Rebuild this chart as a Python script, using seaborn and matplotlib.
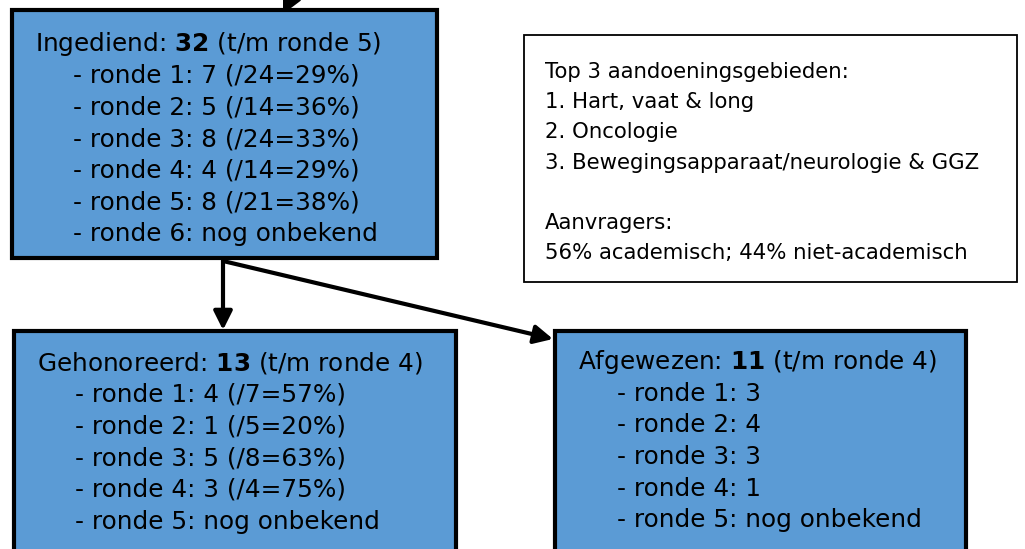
import matplotlib.pyplot as plt
import matplotlib.patches as patches
import seaborn as sns

# data
submitted_total = 32
submitted_upto = 5
submitted_counts = [7, 5, 8, 4, 8]
submitted_of = [24, 14, 24, 14, 21]
submitted_pct = [29, 36, 33, 29, 38]

granted_total = 13
granted_upto = 4
granted_counts = [4, 1, 5, 3]
granted_of = [7, 5, 8, 4]
granted_pct = [57, 20, 63, 75]

rejected_total = 11
rejected_upto = 4
rejected_counts = [3, 4, 3, 1]

top_areas = ["Hart, vaat & long", "Oncologie", "Bewegingsapparaat/neurologie & GGZ"]
applicants_acad = 56
applicants_nonacad = 44

sns.set_theme(style="white")
plt.rcParams['font.family'] = ['DejaVu Sans']
plt.rcParams['mathtext.fontset'] = 'dejavusans'

BLUE = "#5B9BD5"
FS = 17.8
FS_INFO = 15.3


def box_lines(title, total, upto, counts, extra, unknown_round):
    lines = [f"{title}: $\\mathbf{{{total}}}$ (t/m ronde {upto})"]
    for i, c in enumerate(counts):
        lines.append(f"- ronde {i + 1}: {c}{extra[i] if extra else ''}")
    lines.append(f"- ronde {unknown_round}: nog onbekend")
    return lines


def draw_box(ax, x0, y0, x1, y1, lines, tx, ty, indent, step):
    ax.add_patch(patches.Rectangle((x0, y0), x1 - x0, y1 - y0, facecolor=BLUE,
                                   edgecolor="black", lw=3, zorder=2))
    for i, line in enumerate(lines):
        ax.text(tx if i == 0 else indent, ty + i * step, line, fontsize=FS,
                va="center", ha="left", color="black", zorder=3)


fig = plt.figure(figsize=(10.25, 5.49), dpi=100)
ax = fig.add_axes([0, 0, 1, 1])
ax.set_xlim(0, 1025)
ax.set_ylim(549, 0)
ax.axis("off")

sub_extra = [f" (/{o}={p}%)" for o, p in zip(submitted_of, submitted_pct)]
gr_extra = [f" (/{o}={p}%)" for o, p in zip(granted_of, granted_pct)]

draw_box(ax, 12, 10, 437, 258,
         box_lines("Ingediend", submitted_total, submitted_upto, submitted_counts, sub_extra, 6),
         35, 44, 73, 31.7)
draw_box(ax, 14, 331, 456, 560,
         box_lines("Gehonoreerd", granted_total, granted_upto, granted_counts, gr_extra, 5),
         37, 363, 75, 31.7)
draw_box(ax, 555, 331, 966, 560,
         box_lines("Afgewezen", rejected_total, rejected_upto, rejected_counts, None, 5),
         578, 362, 617, 31.7)

# info box
ax.add_patch(patches.Rectangle((524, 35), 493, 247, facecolor="white",
                               edgecolor="black", lw=1.3, zorder=2))
info = ["Top 3 aandoeningsgebieden:"] + [f"{i + 1}. {a}" for i, a in enumerate(top_areas)]
info += ["", "Aanvragers:", f"{applicants_acad}% academisch; {applicants_nonacad}% niet-academisch"]
for i, line in enumerate(info):
    ax.text(545, 72 + i * 30.2, line, fontsize=FS_INFO, va="center", ha="left",
            color="black", zorder=3)

# arrows
arrow = dict(arrowstyle="-|>", lw=3, color="black", mutation_scale=28,
             shrinkA=0, shrinkB=0)
ax.annotate("", xy=(223, 330), xytext=(223, 259), arrowprops=arrow, zorder=1)
ax.annotate("", xy=(553, 339), xytext=(223, 261), arrowprops=arrow, zorder=1)
ax.annotate("", xy=(283, 14), xytext=(320, -60), arrowprops=arrow, zorder=1)

fig.savefig("out.png", dpi=100)
